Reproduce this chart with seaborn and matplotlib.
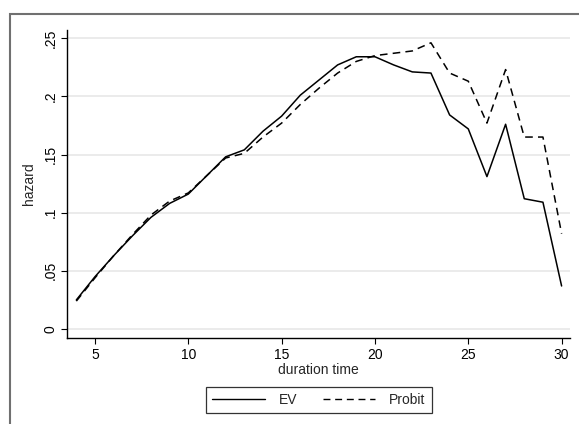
import pandas as pd
import matplotlib.pyplot as plt
import seaborn as sns

# duration time periods
duration = list(range(4, 31))

# hazard estimates
ev_hazard = [0.025, 0.045, 0.063, 0.080, 0.096, 0.108, 0.116, 0.132, 0.148, 0.154,
             0.170, 0.183, 0.201, 0.214, 0.227, 0.234, 0.234, 0.227, 0.221, 0.220,
             0.184, 0.172, 0.131, 0.176, 0.112, 0.109, 0.037]
probit_hazard = [0.024, 0.044, 0.063, 0.081, 0.098, 0.110, 0.117, 0.132, 0.147, 0.151,
                 0.165, 0.177, 0.193, 0.207, 0.220, 0.230, 0.235, 0.237, 0.239, 0.246,
                 0.220, 0.213, 0.177, 0.223, 0.165, 0.165, 0.082]

series_names = ["EV", "Probit"]
y_ticks = [0, 0.05, 0.1, 0.15, 0.2, 0.25]
y_tick_labels = ["0", ".05", ".1", ".15", ".2", ".25"]
x_ticks = [5, 10, 15, 20, 25, 30]

df = pd.DataFrame({
    "duration": duration * 2,
    "hazard": ev_hazard + probit_hazard,
    "model": [series_names[0]] * len(duration) + [series_names[1]] * len(duration),
})

sns.set_style("white")
plt.rcParams["font.family"] = ["Liberation Sans", "DejaVu Sans"]

W, H = 579, 424
fig = plt.figure(figsize=(W / 100, H / 100), dpi=100)
ax = fig.add_axes([67 / W, 1 - 338 / H, (570 - 67) / W, (338 - 30) / H])

dash = (5, 3.4)
sns.lineplot(data=df, x="duration", y="hazard", style="model",
             dashes={"EV": "", "Probit": dash}, color="black",
             linewidth=1.1, ax=ax, legend=False)

ax.set_xlim(3.5, 30.45)
ax.set_ylim(-0.0077, 0.257)
ax.set_yticks(y_ticks)
ax.set_yticklabels(y_tick_labels, rotation=90, va="center")
ax.set_xticks(x_ticks)
ax.yaxis.grid(True, color="#e8e8e8", linewidth=1.2)
ax.set_axisbelow(True)
ax.tick_params(axis="both", direction="out", length=4, width=0.8,
               colors="black", labelsize=10, pad=3)
ax.tick_params(left=True, bottom=True)
for side in ["top", "right"]:
    ax.spines[side].set_visible(False)
for side in ["left", "bottom"]:
    ax.spines[side].set_color("black")
    ax.spines[side].set_linewidth(1.0)

ax.set_xlabel("duration time", fontsize=10, labelpad=1)
ax.set_ylabel("hazard", fontsize=10, labelpad=5)

handles = [plt.Line2D([], [], color="black", lw=1.0),
           plt.Line2D([], [], color="black", lw=1.0, dashes=dash)]
leg = fig.legend(handles, series_names, loc="center", ncol=2,
                 bbox_to_anchor=(319 / W, 1 - 400 / H), frameon=True,
                 fancybox=False, edgecolor="black", fontsize=10,
                 handlelength=3.8, columnspacing=1.8, handletextpad=1.0,
                 borderpad=0.45)
leg.get_frame().set_linewidth(0.9)

# outer graph region border (cropped)
fig.add_artist(plt.Rectangle((10 / W, -0.1), 1.0, (H - 14) / H + 0.1,
                             transform=fig.transFigure, fill=False,
                             edgecolor="#707070", linewidth=1.5))

fig.savefig("out.png", dpi=100)
